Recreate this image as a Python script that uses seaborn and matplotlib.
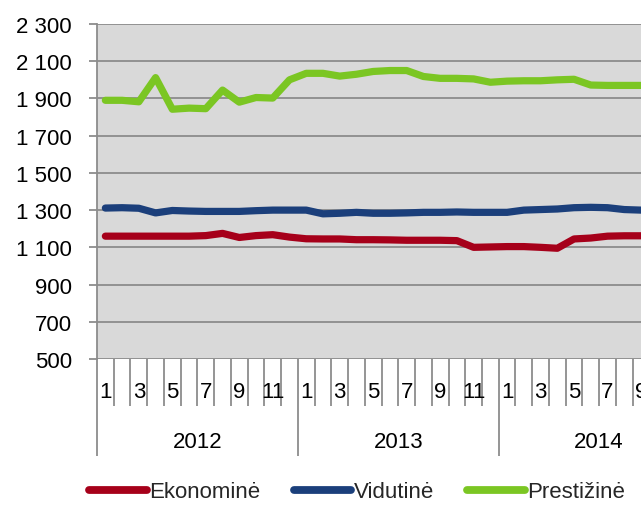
import matplotlib
matplotlib.use("Agg")
import matplotlib.pyplot as plt
import matplotlib.transforms as mtransforms
import numpy as np
import pandas as pd
import seaborn as sns

# Monthly average prices by segment, Jan 2012 - Sep 2014
years = ["2012", "2013", "2014"]
months_per_year = [12, 12, 9]
series_names = ["Ekonominė", "Vidutinė", "Prestižinė"]
ekonomine = [1160, 1160, 1160, 1160, 1160, 1160, 1163, 1175, 1153, 1163, 1168, 1155,
             1146, 1145, 1145, 1141, 1141, 1140, 1138, 1138, 1138, 1136, 1100, 1102,
             1104, 1104, 1100, 1095, 1145, 1150, 1160, 1162, 1162]
vidutine = [1311, 1313, 1310, 1285, 1298, 1295, 1293, 1293, 1293, 1297, 1300, 1300,
            1300, 1280, 1283, 1288, 1283, 1283, 1285, 1288, 1288, 1290, 1288, 1288,
            1288, 1300, 1303, 1306, 1313, 1315, 1313, 1303, 1300]
prestizine = [1890, 1890, 1882, 2012, 1842, 1848, 1845, 1945, 1880, 1905, 1902, 2000,
              2035, 2035, 2020, 2030, 2045, 2050, 2050, 2018, 2008, 2008, 2005, 1987,
              1993, 1995, 1995, 2000, 2003, 1972, 1970, 1970, 1970]
y_ticks = [500, 700, 900, 1100, 1300, 1500, 1700, 1900, 2100, 2300]
colors = ["#A6001A", "#1B3F7B", "#7BC623"]

month_no = [m for n in months_per_year for m in range(1, n + 1)]
idx = list(range(len(month_no)))
df = pd.DataFrame({
    "i": idx * 3,
    "value": ekonomine + vidutine + prestizine,
    "series": [s for s in series_names for _ in idx],
})

sns.set_theme(style="white")
plt.rcParams["font.family"] = ["Liberation Sans", "DejaVu Sans"]
FS = 16
grid_col = "#8C8C8C"

fig = plt.figure(figsize=(6.41, 5.06), dpi=100)
ax = fig.add_axes([97 / 641, 1 - 360 / 506, 1 - 97 / 641, 335 / 506])
ax.set_facecolor("#D9D9D9")

sns.lineplot(data=df, x="i", y="value", hue="series", hue_order=series_names,
             palette=colors, linewidth=5.2, legend=False, ax=ax,
             solid_capstyle="round", solid_joinstyle="round")

ax.set_xlim(-0.5, len(idx) - 1)
ax.set_ylim(500, 2300)
ax.set_yticks(y_ticks)
ax.set_yticklabels([f"{v:,}".replace(",", " ") for v in y_ticks], fontsize=FS, color="black")
ax.yaxis.grid(True, color=grid_col, linewidth=1.3)
ax.set_axisbelow(True)
ax.tick_params(axis="y", length=6, width=1.3, color=grid_col, pad=12, left=True)
ax.set_xlabel("")
ax.set_ylabel("")

for s in ["top", "right", "bottom"]:
    ax.spines[s].set_visible(False)
ax.spines["left"].set_color(grid_col)
ax.spines["left"].set_linewidth(1.3)

# year boundaries as long major ticks, month boundaries as minor ticks
starts = np.cumsum([0] + months_per_year)
year_bounds = [s - 0.5 for s in starts[:-1]]
month_bounds = [b - 0.5 for b in idx if (b - 0.5) not in year_bounds]
ax.set_xticks(year_bounds)
ax.set_xticklabels([])
ax.set_xticks(month_bounds, minor=True)
ax.tick_params(axis="x", which="major", length=70, width=1.3, color=grid_col, bottom=True)
ax.tick_params(axis="x", which="minor", length=34, width=1.3, color=grid_col, bottom=True)

tr = mtransforms.blended_transform_factory(ax.transData, ax.transAxes)
for i, m in zip(idx, month_no):
    if m % 2 == 1:
        ax.text(i, -32 / 335, str(m), transform=tr, ha="center", va="center",
                fontsize=FS, color="black", clip_on=False)
for y, s in zip(years, starts[:-1]):
    ax.text(s + 5.5, -82 / 335, y, transform=tr, ha="center", va="center",
            fontsize=FS, color="black", clip_on=False)

handles = [plt.Line2D([], [], color=c, linewidth=5.6, solid_capstyle="round") for c in colors]
fig.legend(handles, series_names, loc="center", bbox_to_anchor=(357 / 641, 1 - 493 / 506),
           ncol=3, frameon=False, fontsize=FS, handlelength=2.6, handletextpad=0.1,
           columnspacing=1.5, borderaxespad=0, borderpad=0)

fig.savefig("out.png", dpi=100)
